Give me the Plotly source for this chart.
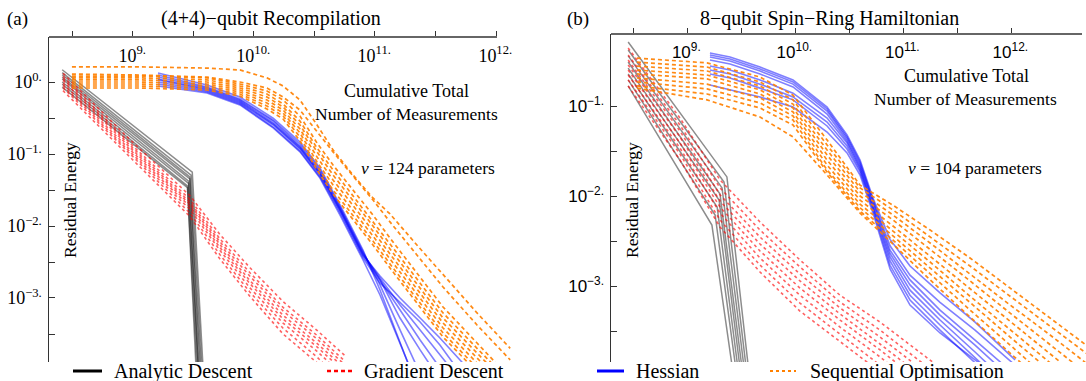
import plotly.graph_objects as go

# ======================= Panel (a): (4+4)-qubit Recompilation =======================
a_analytic_x = [
    [2.6e8, 3.09e9, 3.89e9],
    [2.6e8, 3.02e9, 3.80e9],
    [2.6e8, 2.95e9, 3.72e9],
    [2.6e8, 2.95e9, 3.63e9],
    [2.6e8, 2.88e9, 3.55e9],
    [2.6e8, 2.88e9, 3.55e9],
    [2.6e8, 2.82e9, 3.47e9],
    [2.6e8, 2.82e9, 3.39e9],
]
a_analytic_y = [
    [1.48, 0.056, 5e-5],
    [1.35, 0.051, 5e-5],
    [1.26, 0.048, 5e-5],
    [1.17, 0.045, 5e-5],
    [1.10, 0.042, 5e-5],
    [1.00, 0.039, 5e-5],
    [0.93, 0.036, 5e-5],
    [0.85, 0.034, 5e-5],
]

a_gradient_x = [2.64e8, 9.44e8, 2.96e9, 5.24e9, 9.27e9, 1.74e10, 3.32e10, 5.65e10]
a_gradient_y = [
    [1.32, 0.158, 0.0263, 7.6e-3, 2.63e-3, 8.9e-4, 3.55e-4, 1.58e-4],
    [1.20, 0.141, 0.0234, 6.6e-3, 2.24e-3, 7.4e-4, 3.02e-4, 1.32e-4],
    [1.12, 0.132, 0.0214, 6.0e-3, 2.0e-3, 6.6e-4, 2.69e-4, 1.17e-4],
    [1.05, 0.123, 0.0200, 5.5e-3, 1.74e-3, 5.75e-4, 2.34e-4, 1.05e-4],
    [0.955, 0.115, 0.0186, 5.0e-3, 1.58e-3, 5.1e-4, 2.09e-4, 9.3e-5],
    [0.891, 0.107, 0.0170, 4.57e-3, 1.38e-3, 4.47e-4, 1.82e-4, 7.9e-5],
    [0.832, 0.100, 0.0151, 3.98e-3, 1.20e-3, 3.8e-4, 1.51e-4, 6.3e-5],
    [0.759, 0.0912, 0.0135, 3.47e-3, 1.05e-3, 3.16e-4, 1.26e-4, 5.0e-5],
]

a_hessian_x = [1.61e9, 4.09e9, 7.65e9, 1.44e10, 2.40e10, 3.51e10, 5.14e10, 7.96e10,
               1.10e11, 1.61e11, 2.36e11, 3.44e11, 5.04e11, 7.38e11]
a_hessian_y = [
    [1.33, 0.909, 0.619, 0.316, 0.147, 0.0639, 0.0196, 4.64e-3, 1.29e-3, 2.37e-4, 4.5e-5, 1.07e-5, 3.0e-6, 8.3e-7],
    [1.25, 0.853, 0.581, 0.297, 0.138, 0.0600, 0.0184, 4.35e-3, 1.52e-3, 3.60e-4, 8.5e-5, 2.02e-5, 5.6e-6, 1.56e-6],
    [1.17, 0.826, 0.562, 0.287, 0.129, 0.0562, 0.0178, 4.22e-3, 1.78e-3, 5.27e-4, 1.90e-4, 7.3e-5, 2.78e-5, 1.07e-5],
    [1.10, 0.800, 0.545, 0.270, 0.125, 0.0545, 0.0172, 4.08e-3, 1.90e-3, 8.0e-4, 3.60e-4, 1.62e-4, 7.3e-5, 3.27e-5],
    [1.07, 0.774, 0.527, 0.261, 0.121, 0.0527, 0.0167, 3.96e-3, 2.02e-3, 1.0e-3, 5.27e-4, 2.78e-4, 1.38e-4, 6.8e-5],
    [1.00, 0.750, 0.511, 0.253, 0.117, 0.0511, 0.0162, 3.83e-3, 1.78e-3, 6.8e-4, 2.61e-4, 1.07e-4, 4.5e-5, 2.02e-5],
    [0.938, 0.726, 0.495, 0.237, 0.110, 0.0480, 0.0152, 3.60e-3, 1.62e-3, 8.8e-4, 4.64e-4, 2.22e-4, 9.4e-5, 3.83e-5],
    [0.880, 0.704, 0.480, 0.230, 0.107, 0.0464, 0.0142, 3.37e-3, 1.10e-3, 2.22e-4, 4.5e-5, 1.07e-5, 3.0e-6, 8.3e-7],
]

a_sequential_x = [3.13e8, 1.14e9, 4.09e9, 7.65e9, 1.28e10, 1.74e10, 2.40e10, 3.32e10,
                  4.50e10, 6.58e10, 9.62e10, 1.33e11, 2.22e11, 3.65e11, 6.97e11, 1.31e12]
a_sequential_y = [
    [1.62, 1.62, 1.56, 1.47, 1.14, 0.880, 0.562, 0.253, 0.114, 0.0511, 0.0245, 0.0147, 5.45e-3, 2.15e-3, 6.2e-4, 2.0e-4],
    [1.29, 1.25, 1.17, 1.0, 0.826, 0.619, 0.408, 0.202, 0.107, 0.0495, 0.0230, 0.0114, 3.96e-3, 1.42e-3, 4.22e-4, 1.38e-4],
    [1.21, 1.21, 1.14, 0.938, 0.750, 0.562, 0.337, 0.142, 0.0703, 0.0316, 0.0142, 6.8e-3, 2.22e-3, 7.5e-4, 2.37e-4, 7.7e-5],
    [1.14, 1.14, 1.07, 0.880, 0.681, 0.495, 0.287, 0.121, 0.0600, 0.0261, 0.0117, 5.62e-3, 1.84e-3, 6.2e-4, 2.0e-4, 6.8e-5],
    [1.07, 1.07, 1.0, 0.826, 0.619, 0.450, 0.253, 0.107, 0.0511, 0.0230, 0.0100, 4.80e-3, 1.56e-3, 5.27e-4, 1.72e-4, 5.8e-5],
    [1.0, 1.0, 0.938, 0.774, 0.562, 0.408, 0.222, 0.0909, 0.0436, 0.0196, 8.5e-3, 4.08e-3, 1.33e-3, 4.5e-4, 1.47e-4, 4.9e-5],
    [0.938, 0.938, 0.880, 0.726, 0.511, 0.371, 0.196, 0.0774, 0.0371, 0.0167, 7.26e-3, 3.48e-3, 1.14e-3, 3.83e-4, 1.25e-4, 4.2e-5],
    [0.880, 0.880, 0.826, 0.681, 0.464, 0.337, 0.172, 0.0681, 0.0316, 0.0142, 6.19e-3, 2.97e-3, 9.7e-4, 3.27e-4, 1.07e-4, 3.6e-5],
    [0.826, 0.826, 0.774, 0.639, 0.422, 0.306, 0.152, 0.0600, 0.0278, 0.0125, 5.45e-3, 2.61e-3, 8.5e-4, 2.87e-4, 9.4e-5, 3.16e-5],
]

# ======================= Panel (b): 8-qubit Spin-Ring Hamiltonian =======================
b_analytic_x = [
    [2.85e8, 2.34e9, 4.0e9],
    [2.85e8, 2.20e9, 3.83e9],
    [2.85e8, 2.11e9, 3.67e9],
    [2.85e8, 2.02e9, 3.52e9],
    [2.85e8, 1.98e9, 3.37e9],
    [2.85e8, 1.90e9, 3.23e9],
    [2.85e8, 1.82e9, 3.10e9],
    [2.85e8, 1.70e9, 2.90e9],
]
b_analytic_y = [
    [0.514, 0.0163, 5.4e-5],
    [0.419, 0.0143, 5.4e-5],
    [0.360, 0.0123, 5.4e-5],
    [0.308, 0.0105, 5.4e-5],
    [0.264, 9.0e-3, 5.4e-5],
    [0.227, 7.55e-3, 5.4e-5],
    [0.195, 6.15e-3, 5.4e-5],
    [0.167, 4.76e-3, 5.4e-5],
]

b_gradient_x = [2.85e8, 8.6e8, 2.02e9, 4.74e9, 1.11e10, 2.61e10, 6.12e10, 1.44e11, 3.37e11]
b_gradient_y = [
    [0.441, 0.0736, 0.0151, 5.14e-3, 1.95e-3, 7.9e-4, 3.98e-4, 1.80e-4, 8.4e-5],
    [0.369, 0.0615, 0.0123, 4.19e-3, 1.63e-3, 6.64e-4, 3.24e-4, 1.47e-4, 6.6e-5],
    [0.324, 0.0527, 0.0103, 3.50e-3, 1.36e-3, 5.70e-4, 2.71e-4, 1.23e-4, 5.5e-5],
    [0.286, 0.0453, 8.8e-3, 2.93e-3, 1.14e-3, 4.89e-4, 2.27e-4, 1.03e-4, 4.6e-5],
    [0.251, 0.0388, 7.55e-3, 2.45e-3, 9.5e-4, 4.19e-4, 1.95e-4, 8.6e-5, 3.9e-5],
    [0.221, 0.0341, 6.47e-3, 2.05e-3, 7.9e-4, 3.50e-4, 1.63e-4, 7.2e-5, 3.2e-5],
    [0.195, 0.0293, 5.41e-3, 1.71e-3, 6.47e-4, 2.93e-4, 1.32e-4, 6.0e-5, 2.7e-5],
    [0.167, 0.0251, 4.53e-3, 1.43e-3, 5.27e-4, 2.45e-4, 1.11e-4, 5.0e-5, 2.3e-5],
]

b_hessian_x = [1.63e9, 2.50e9, 4.74e9, 9.58e9, 1.98e10, 3.03e10, 4.0e10, 5.27e10,
               7.58e10, 1.16e11, 2.20e11, 4.64e11, 1.09e12]
b_hessian_y = [
    [0.388, 0.350, 0.271, 0.195, 0.0975, 0.0476, 0.0251, 9.5e-3, 3.3e-3, 1.67e-3, 8.4e-4, 3.98e-4, 1.51e-4],
    [0.369, 0.333, 0.258, 0.185, 0.0927, 0.0453, 0.0239, 9.0e-3, 2.8e-3, 1.32e-3, 6.6e-4, 3.24e-4, 1.32e-4],
    [0.350, 0.316, 0.245, 0.175, 0.0880, 0.0430, 0.0227, 8.6e-3, 2.5e-3, 1.17e-3, 5.41e-4, 2.51e-4, 1.03e-4],
    [0.324, 0.293, 0.227, 0.163, 0.0815, 0.0408, 0.0215, 8.1e-3, 2.3e-3, 1.03e-3, 4.76e-4, 2.21e-4, 8.6e-5],
    [0.278, 0.251, 0.195, 0.139, 0.0736, 0.0388, 0.0205, 7.7e-3, 2.1e-3, 9.0e-4, 4.19e-4, 1.85e-4, 7.0e-5],
    [0.251, 0.227, 0.175, 0.126, 0.0664, 0.0360, 0.0195, 7.4e-3, 1.9e-3, 7.9e-4, 3.69e-4, 1.63e-4, 6.15e-5],
    [0.227, 0.205, 0.158, 0.117, 0.0600, 0.0333, 0.0185, 7.0e-3, 1.7e-3, 7.0e-4, 3.24e-4, 1.43e-4, 5.4e-5],
    [0.171, 0.151, 0.126, 0.0975, 0.0514, 0.0301, 0.0171, 6.47e-3, 1.55e-3, 6.15e-4, 3.01e-4, 1.51e-4, 7.0e-5],
]

b_sequential_x = [3.44e8, 1.53e9, 4.74e9, 9.58e9, 1.98e10, 4.0e10, 8.07e10, 1.78e11,
                  4.17e11, 9.8e11, 2.30e12, 5.38e12]
b_sequential_y = [
    [0.341, 0.301, 0.210, 0.132, 0.0419, 0.0132, 7.9e-3, 4.19e-3, 2.05e-3, 9.5e-4, 4.41e-4, 2.05e-4],
    [0.308, 0.271, 0.185, 0.117, 0.0369, 0.0123, 7.0e-3, 3.50e-3, 1.67e-3, 7.7e-4, 3.60e-4, 1.67e-4],
    [0.278, 0.245, 0.167, 0.105, 0.0324, 0.0111, 6.15e-3, 3.01e-3, 1.36e-3, 6.15e-4, 2.86e-4, 1.29e-4],
    [0.251, 0.221, 0.151, 0.0950, 0.0286, 0.0100, 5.41e-3, 2.58e-3, 1.14e-3, 5.0e-4, 2.27e-4, 1.0e-4],
    [0.227, 0.200, 0.136, 0.0858, 0.0251, 9.0e-3, 4.64e-3, 2.15e-3, 9.3e-4, 4.08e-4, 1.80e-4, 7.7e-5],
    [0.205, 0.175, 0.123, 0.0774, 0.0221, 8.1e-3, 4.08e-3, 1.85e-3, 7.7e-4, 3.33e-4, 1.43e-4, 6.0e-5],
    [0.185, 0.155, 0.108, 0.0699, 0.0195, 7.4e-3, 3.60e-3, 1.58e-3, 6.47e-4, 2.71e-4, 1.14e-4, 4.6e-5],
    [0.167, 0.136, 0.0950, 0.0615, 0.0185, 6.8e-3, 3.24e-3, 1.36e-3, 5.41e-4, 2.21e-4, 9.0e-5, 3.6e-5],
    [0.158, 0.117, 0.0755, 0.0453, 0.0171, 6.47e-3, 2.93e-3, 1.17e-3, 4.53e-4, 1.80e-4, 7.2e-5, 2.86e-5],
]

# ======================= Ticks and labels =======================
x_major_vals = [1e9, 1e10, 1e11, 1e12]
x_major_exp = ["9.", "10.", "11.", "12."]
x_minor_vals = [3.16e8, 3.16e9, 3.16e10, 3.16e11]
a_y_major_vals = [1e-3, 1e-2, 1e-1, 1]
a_y_major_exp = ["−3.", "−2.", "−1.", "0."]
a_y_minor_vals = [3.16e-4, 3.16e-3, 3.16e-2, 3.16e-1, 3.16]
b_y_major_vals = [1e-3, 1e-2, 1e-1]
b_y_major_exp = ["−3.", "−2.", "−1."]
b_y_minor_vals = [3.16e-4, 3.16e-3, 3.16e-2, 3.16e-1]


def power_labels(exps):
    # hair space after the superscript so the baseline reset has real width
    return ["10<sup>" + e + "</sup>\u200a" for e in exps]


method_names = ["Analytic Descent", "Gradient Descent", "Hessian", "Sequential Optimisation"]
panel_titles = ["(4+4)−qubit Recompilation", "8−qubit Spin−Ring Hamiltonian"]
param_labels = ["<i>ν</i> = 124 parameters", "<i>ν</i> = 104 parameters"]

SERIF = "Liberation Serif, Times New Roman, serif"
SANS = "Liberation Sans, Arial, sans-serif"
W, H = 1086, 381

GRAY = "rgba(0,0,0,0.45)"
RED = "rgba(255,0,0,0.62)"
BLUE = "rgba(0,0,255,0.5)"
ORANGE = "rgba(255,128,0,0.92)"

fig = go.Figure()


def add_runs(xs, ys, color, dash, xa, ya, shared_x=True, width=1.5):
    for i, yv in enumerate(ys):
        xv = xs if shared_x else xs[i]
        fig.add_trace(go.Scatter(x=xv, y=yv, mode="lines", xaxis=xa, yaxis=ya,
                                 line=dict(color=color, width=width, dash=dash),
                                 showlegend=False, hoverinfo="skip"))


# panel (a)
add_runs(a_analytic_x, a_analytic_y, GRAY, "solid", "x", "y", shared_x=False, width=1.5)
add_runs(a_hessian_x, a_hessian_y, BLUE, "solid", "x", "y", width=1.6)
add_runs(a_gradient_x, a_gradient_y, RED, "3px,3px", "x", "y", width=1.6)
add_runs(a_sequential_x, a_sequential_y, ORANGE, "4px,3px", "x", "y", width=1.7)
# panel (b)
add_runs(b_analytic_x, b_analytic_y, GRAY, "solid", "x2", "y2", shared_x=False, width=1.5)
add_runs(b_hessian_x, b_hessian_y, BLUE, "solid", "x2", "y2", width=1.6)
add_runs(b_gradient_x, b_gradient_y, RED, "3px,3px", "x2", "y2", width=1.6)
add_runs(b_sequential_x, b_sequential_y, ORANGE, "4px,3px", "x2", "y2", width=1.7)


def px(v):
    return v / W


def py(v):
    return 1 - v / H


AX_COLOR = "#333333"
common_x = dict(type="log", side="top", showline=False, ticks="outside", ticklen=5, tickwidth=1,
                tickcolor=AX_COLOR, tickmode="array", tickvals=x_major_vals,
                ticktext=power_labels(x_major_exp),
                minor=dict(tickmode="array", tickvals=x_minor_vals, ticks="outside", ticklen=5,
                           tickwidth=1, tickcolor=AX_COLOR, showgrid=False),
                ticklabelposition="inside", ticklabelstandoff=9,
                showgrid=False, zeroline=False)
common_y = dict(type="log", showline=True, linecolor=AX_COLOR, linewidth=1.3, ticks="inside",
                ticklen=6, tickwidth=1, tickcolor=AX_COLOR, showgrid=False, zeroline=False,
                tickmode="array")

fig.update_layout(
    width=W, height=H, margin=dict(l=0, r=0, t=0, b=0),
    paper_bgcolor="white", plot_bgcolor="white", showlegend=False,
    xaxis=dict(**common_x, range=[8.306, 12.281], domain=[px(49), px(530)], anchor="y",
               tickfont=dict(family=SERIF, size=18, color="black")),
    yaxis=dict(**common_y, range=[-3.889, 0.625], domain=[py(362), py(37)], anchor="x",
               tickvals=a_y_major_vals, ticktext=power_labels(a_y_major_exp),
               minor=dict(tickmode="array", tickvals=a_y_minor_vals, ticks="inside", ticklen=6,
                          tickwidth=1, tickcolor=AX_COLOR, showgrid=False),
               ticklabelstandoff=1,
               tickfont=dict(family=SERIF, size=18, color="black")),
    xaxis2=dict(**common_x, range=[8.296, 12.694], domain=[px(611), 1.0], anchor="y2",
                tickfont=dict(family=SANS, size=17, color="black")),
    yaxis2=dict(**common_y, range=[-3.844, -0.2], domain=[py(362), py(34)], anchor="x2",
                tickvals=b_y_major_vals, ticktext=power_labels(b_y_major_exp),
                minor=dict(tickmode="array", tickvals=b_y_minor_vals, ticks="inside", ticklen=6,
                           tickwidth=1, tickcolor=AX_COLOR, showgrid=False),
                ticklabelstandoff=1,
                tickfont=dict(family=SANS, size=17, color="black")),
)

shapes = [
    # top axis lines
    dict(type="line", xref="paper", yref="paper", x0=px(49), x1=px(497), y0=py(37), y1=py(37),
         line=dict(color=AX_COLOR, width=1.3)),
    dict(type="line", xref="paper", yref="paper", x0=px(611), x1=px(1082), y0=py(34), y1=py(34),
         line=dict(color=AX_COLOR, width=1.3)),
    # legend samples
    dict(type="line", xref="paper", yref="paper", x0=px(73), x1=px(102), y0=py(371), y1=py(371),
         line=dict(color="black", width=3)),
    dict(type="line", xref="paper", yref="paper", x0=px(327), x1=px(354), y0=py(371), y1=py(371),
         line=dict(color="red", width=2.5, dash="4px,3px")),
    dict(type="line", xref="paper", yref="paper", x0=px(597), x1=px(624), y0=py(371), y1=py(371),
         line=dict(color="blue", width=3)),
    dict(type="line", xref="paper", yref="paper", x0=px(770), x1=px(796), y0=py(371), y1=py(371),
         line=dict(color="rgb(255,128,0)", width=2.2, dash="dot")),
]
fig.update_layout(shapes=shapes)


def note(x, y, text, size=17, family=SERIF, xanchor="center", angle=0):
    fig.add_annotation(x=px(x), y=py(y), xref="paper", yref="paper", text=text, showarrow=False,
                       xanchor=xanchor, yanchor="middle", textangle=angle,
                       font=dict(family=family, size=size, color="black"))


note(17, 19, "(a)", size=19)
note(271, 19, panel_titles[0], size=20)
note(578, 19, "(b)", size=19)
note(829, 19, panel_titles[1], size=20)

note(406, 91, "Cumulative Total", size=18)
note(406, 114, "Number of Measurements", size=17.5)
note(428, 168, param_labels[0], size=17.5)
note(966, 76, "Cumulative Total", size=18)
note(965, 99, "Number of Measurements", size=17.5)
note(975, 168, param_labels[1], size=17.5)

note(70, 200, "Residual Energy", size=17.5, angle=-90)
note(632, 200, "Residual Energy", size=17.5, angle=-90)

note(112, 371, method_names[0], size=20, xanchor="left")
note(362, 371, method_names[1], size=20, xanchor="left")
note(634, 371, method_names[2], size=20, xanchor="left")
note(808, 371, method_names[3], size=20, xanchor="left")

fig.write_html("out.html")
